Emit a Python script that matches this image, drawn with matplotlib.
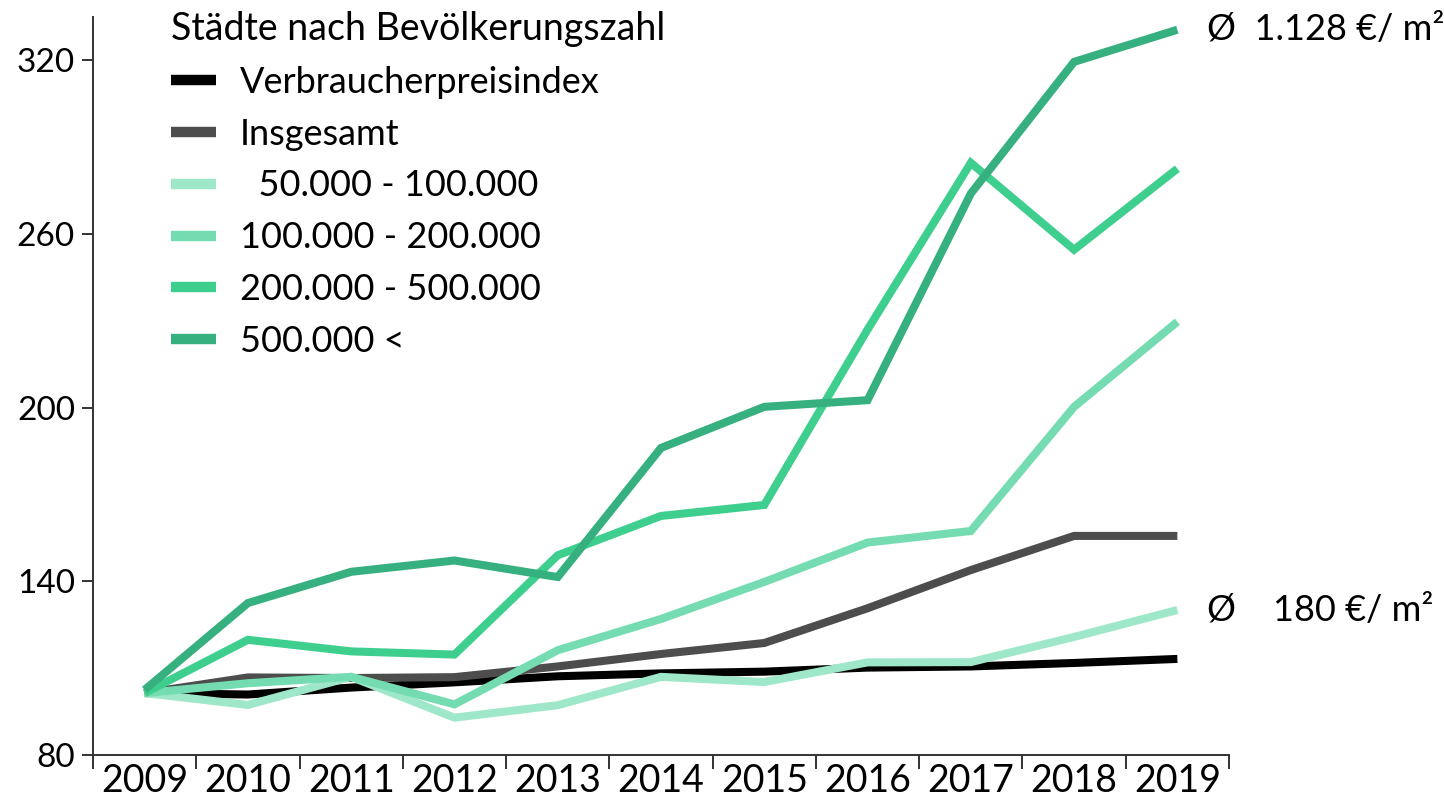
import matplotlib
matplotlib.use("Agg")
import matplotlib.pyplot as plt
import numpy as np
from matplotlib.ticker import FixedLocator

years = ["2009", "2010", "2011", "2012", "2013", "2014", "2015", "2016", "2017", "2018", "2019"]

cpi = [101.4, 100.9, 103.3, 105.1, 107.2, 108.2, 108.8, 110.2, 110.6, 111.8, 113.2]
total = [101.4, 106.8, 106.6, 106.9, 110.6, 114.9, 118.7, 130.7, 143.9, 155.7, 155.7]
k50_100 = [101.4, 97.3, 107.0, 92.9, 97.2, 107.0, 105.2, 112.0, 112.1, 120.8, 130.1]
k100_200 = [101.4, 104.8, 107.0, 97.5, 116.2, 127.0, 139.8, 153.4, 157.4, 200.3, 229.7]
k200_500 = [101.4, 119.8, 115.8, 114.7, 149.0, 162.6, 166.4, 227.0, 284.6, 254.6, 282.6]
k500 = [102.5, 132.5, 143.3, 147.2, 141.5, 186.1, 200.3, 202.6, 274.0, 319.5, 330.6]

labels = ["Verbraucherpreisindex", "Insgesamt", "  50.000 - 100.000",
          "100.000 - 200.000", "200.000 - 500.000", "500.000 <"]
colors = ["#000000", "#4d4d4d", "#9ee8c9", "#74dcb0", "#3ecf8e", "#36b07e"]
series = [cpi, total, k50_100, k100_200, k200_500, k500]

plt.rcParams["font.family"] = ["Lato", "DejaVu Sans"]

fig = plt.figure(figsize=(14.44, 7.99), dpi=100)
ax = fig.add_axes([93 / 1444, 44 / 799, 1136 / 1444, 738 / 799])

x = np.arange(len(years))
for vals, lab, col in zip(series, labels, colors):
    ax.plot(x, vals, color=col, lw=5.8, label=lab, solid_capstyle="butt",
            solid_joinstyle="miter")

ax.set_xlim(-0.5, 10.5)
ax.set_ylim(80, 335)
ax.set_yticks([80, 140, 200, 260, 320])
ax.set_xticks(x)
ax.set_xticklabels(years)
ax.xaxis.set_minor_locator(FixedLocator(np.arange(-0.5, 11, 1)))
ax.tick_params(axis="x", which="major", length=0, pad=6, labelsize=27)
ax.tick_params(axis="x", which="minor", length=10, width=1.4, color="#333333")
ax.tick_params(axis="y", length=8, width=1.4, color="#333333", pad=5, labelsize=24)

for side in ["top", "right"]:
    ax.spines[side].set_visible(False)
for side in ["left", "bottom"]:
    ax.spines[side].set_linewidth(1.4)
    ax.spines[side].set_color("#333333")

leg = ax.legend(loc="upper left", bbox_to_anchor=(0.04, 1.052), frameon=False,
                title="Städte nach Bevölkerungszahl", fontsize=26, title_fontsize=27,
                handlelength=1.25, handletextpad=0.65, labelspacing=0.52)
leg._legend_box.align = "left"
for h in leg.legend_handles:
    h.set_linewidth(7.5)

ax.annotate("Ø  1.128 €/ m²", xy=(10, k500[-1]), xytext=(30, 0),
            textcoords="offset pixels", va="center", ha="left", fontsize=26,
            annotation_clip=False)
ax.annotate("Ø    180 €/ m²", xy=(10, k50_100[-1]), xytext=(30, 0),
            textcoords="offset pixels", va="center", ha="left", fontsize=26,
            annotation_clip=False)

fig.savefig("out.png", dpi=100)
